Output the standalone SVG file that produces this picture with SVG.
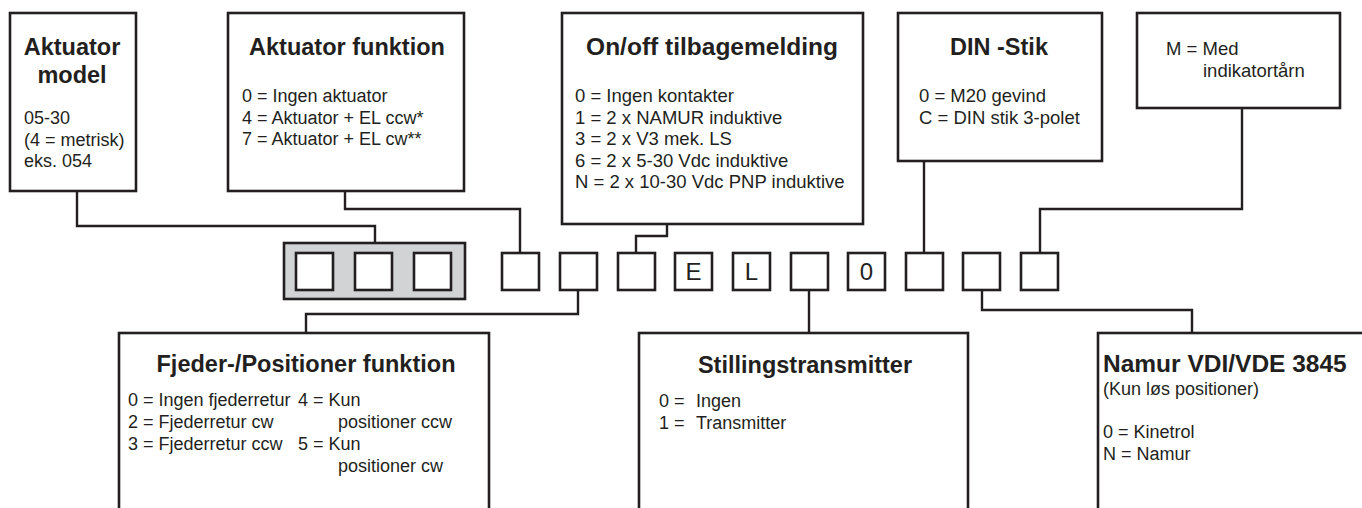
<svg xmlns="http://www.w3.org/2000/svg" width="1362" height="508" viewBox="0 0 1362 508">
<style>
  .box { fill: #ffffff; stroke: #231f20; stroke-width: 2.6; }
  .sq { fill: #ffffff; stroke: #231f20; stroke-width: 2.6; }
  .gray { fill: #d1d3d4; stroke: #231f20; stroke-width: 2.6; }
  .conn { fill: none; stroke: #231f20; stroke-width: 2.4; }
  .title { font-family: "Liberation Sans", Arial, sans-serif; font-weight: bold; font-size: 23.5px; fill: #231f20; }
  .body { font-family: "Liberation Sans", Arial, sans-serif; font-size: 18px; fill: #231f20; }
  .body2 { font-family: "Liberation Sans", Arial, sans-serif; font-size: 18.5px; fill: #231f20; }
  .code { font-family: "Liberation Sans", Arial, sans-serif; font-size: 24px; fill: #231f20; text-anchor: middle; }
  .mid { text-anchor: middle; }
</style>
<rect width="1362" height="508" fill="#ffffff"/>

<g id="connectors">
  <path class="conn" d="M77,191 V226 H375 V243"/>
  <path class="conn" d="M345,191 V209 H520 V253"/>
  <path class="conn" d="M667,224 V236 H636 V253"/>
  <path class="conn" d="M924,161 V253"/>
  <path class="conn" d="M1242,108 V209 H1040 V253"/>
  <path class="conn" d="M578,290 V314 H306 V333"/>
  <path class="conn" d="M809,290 V333"/>
  <path class="conn" d="M982,290 V310 H1192 V333"/>
</g>

<g id="aktuator-model">
  <rect class="box" x="10" y="13" width="126" height="178"/>
  <text class="title mid" x="72" y="55">Aktuator</text>
  <text class="title mid" x="72" y="83">model</text>
  <text class="body" x="24" y="124">05-30</text>
  <text class="body" x="24" y="145.5">(4 = metrisk)</text>
  <text class="body" x="24" y="167">eks. 054</text>
</g>

<g id="aktuator-funktion">
  <rect class="box" x="228" y="13" width="236" height="178"/>
  <text class="title mid" x="347" y="55">Aktuator funktion</text>
  <text class="body" x="242" y="102">0 = Ingen aktuator</text>
  <text class="body" x="242" y="123.5">4 = Aktuator + EL ccw*</text>
  <text class="body" x="242" y="145">7 = Aktuator + EL cw**</text>
</g>

<g id="onoff">
  <rect class="box" x="562" y="13" width="301" height="211"/>
  <text class="title mid" x="712" y="55" style="font-size:24.5px">On/off tilbagemelding</text>
  <text class="body2" x="575" y="102">0 = Ingen kontakter</text>
  <text class="body2" x="575" y="123.5">1 = 2 x NAMUR induktive</text>
  <text class="body2" x="575" y="145">3 = 2 x V3 mek. LS</text>
  <text class="body2" x="575" y="166.5">6 = 2 x 5-30 Vdc induktive</text>
  <text class="body2" x="575" y="188">N = 2 x 10-30 Vdc PNP induktive</text>
</g>

<g id="din-stik">
  <rect class="box" x="898" y="13" width="204" height="148"/>
  <text class="title mid" x="999" y="55">DIN -Stik</text>
  <text class="body2" x="919" y="102">0 = M20 gevind</text>
  <text class="body2" x="919" y="123.5">C = DIN stik 3-polet</text>
</g>

<g id="indikator">
  <rect class="box" x="1137" y="13" width="203" height="95"/>
  <text class="body2" x="1166" y="55">M = Med</text>
  <text class="body2" x="1203" y="77">indikatortårn</text>
</g>

<g id="code-row">
  <rect class="gray" x="284" y="243" width="181" height="56"/>
  <rect class="sq" x="296" y="253" width="37" height="37"/>
  <rect class="sq" x="355" y="253" width="37" height="37"/>
  <rect class="sq" x="414" y="253" width="37" height="37"/>
  <rect class="sq" x="502" y="253" width="37" height="37"/>
  <rect class="sq" x="560" y="253" width="37" height="37"/>
  <rect class="sq" x="618" y="253" width="37" height="37"/>
  <rect class="sq" x="675" y="253" width="37" height="37"/>
  <text class="code" x="693.5" y="280">E</text>
  <rect class="sq" x="733" y="253" width="37" height="37"/>
  <text class="code" x="751.5" y="280">L</text>
  <rect class="sq" x="791" y="253" width="37" height="37"/>
  <rect class="sq" x="848" y="253" width="37" height="37"/>
  <text class="code" x="866.5" y="280">0</text>
  <rect class="sq" x="906" y="253" width="37" height="37"/>
  <rect class="sq" x="963" y="253" width="37" height="37"/>
  <rect class="sq" x="1021" y="253" width="37" height="37"/>
</g>

<g id="fjeder">
  <rect class="box" x="119" y="333" width="370" height="200"/>
  <text class="title mid" x="306" y="372">Fjeder-/Positioner funktion</text>
  <text class="body" x="128" y="406">0 = Ingen fjederretur</text>
  <text class="body" x="128" y="428">2 = Fjederretur cw</text>
  <text class="body" x="128" y="450">3 = Fjederretur ccw</text>
  <text class="body" x="298" y="406">4 = Kun</text>
  <text class="body" x="338" y="428">positioner ccw</text>
  <text class="body" x="298" y="450">5 = Kun</text>
  <text class="body" x="338" y="472">positioner cw</text>
</g>

<g id="stillingstransmitter">
  <rect class="box" x="639" y="333" width="329" height="200"/>
  <text class="title mid" x="805" y="373">Stillingstransmitter</text>
  <text class="body" x="659" y="407">0 =</text>
  <text class="body" x="696" y="407">Ingen</text>
  <text class="body" x="659" y="428.5">1 =</text>
  <text class="body" x="696" y="428.5">Transmitter</text>
</g>

<g id="namur">
  <rect class="box" x="1098" y="333" width="300" height="200"/>
  <text class="title" x="1103" y="372" style="font-size:24.5px">Namur VDI/VDE 3845</text>
  <text class="body" x="1103" y="395">(Kun løs positioner)</text>
  <text class="body" x="1103" y="438">0 = Kinetrol</text>
  <text class="body" x="1103" y="460">N = Namur</text>
</g>
</svg>
